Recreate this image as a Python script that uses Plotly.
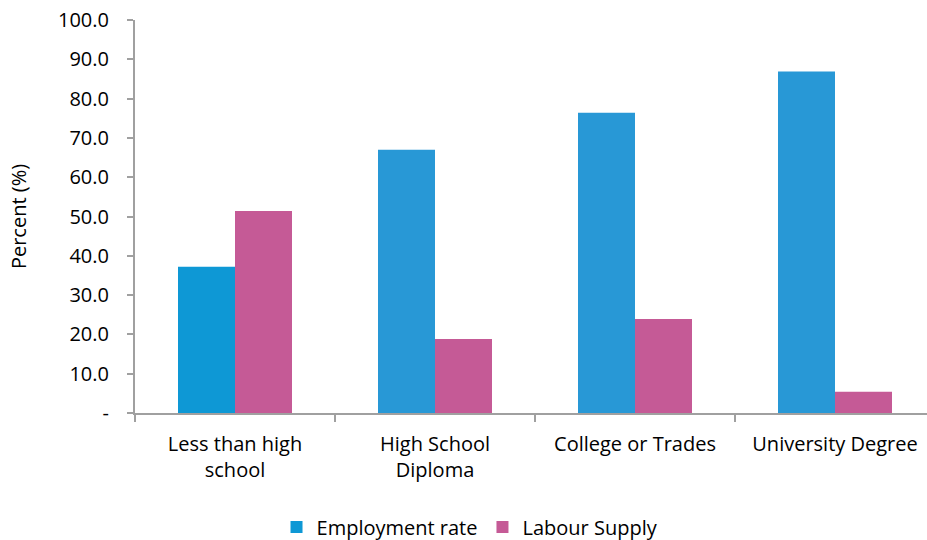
import plotly.graph_objects as go

categories = ["Less than high<br>school", "High School<br>Diploma", "College or Trades", "University Degree"]
employment = [37.2, 67.0, 76.4, 86.9]
labour = [51.4, 18.8, 23.9, 5.4]
emp_colors = ["#0E98D5", "#2898D6", "#2898D6", "#2898D6"]
tick_vals = [0, 10, 20, 30, 40, 50, 60, 70, 80, 90, 100]
tick_text = ["-", "10.0", "20.0", "30.0", "40.0", "50.0", "60.0", "70.0", "80.0", "90.0", "100.0"]

font_family = "Open Sans, Noto Sans, sans-serif"
fs = 20

fig = go.Figure()
fig.add_trace(go.Bar(x=categories, y=employment, name="Employment rate",
                     marker=dict(color=emp_colors, line=dict(width=0))))
fig.add_trace(go.Bar(x=categories, y=labour, name="Labour Supply",
                     marker=dict(color="#C55A96", line=dict(width=0))))

fig.update_layout(
    width=927, height=540,
    margin=dict(l=135, r=0, t=20, b=127, autoexpand=False),
    paper_bgcolor="white", plot_bgcolor="white",
    barmode="group", bargap=0.43, bargroupgap=0,
    font=dict(family=font_family, size=fs, color="#000000"),
    showlegend=True,
    legend=dict(orientation="h", x=0.423, xanchor="center", y=0.024, yanchor="middle",
                yref="container", font=dict(size=fs), traceorder="normal"),
    xaxis=dict(range=[-0.5, 3.46], showline=True, linecolor="#A0A0A0", linewidth=2,
               ticks="outside", tickson="boundaries", ticklen=7, tickcolor="#A0A0A0",
               tickwidth=2, showgrid=False, tickfont=dict(size=fs), zeroline=False,
               ticklabelstandoff=12, automargin=False),
    yaxis=dict(range=[0, 100], tickvals=tick_vals, ticktext=tick_text,
               showline=True, linecolor="#A0A0A0", linewidth=2, ticks="outside",
               ticklen=6, tickcolor="#A0A0A0", tickwidth=2, showgrid=False,
               zeroline=False, tickfont=dict(size=fs), ticklabelstandoff=14,
               ticklabeloverflow="allow", automargin=False,
               title=dict(text="Percent (%)", font=dict(size=fs), standoff=26)),
)

fig.write_html("out.html", config={"displayModeBar": False},
               post_script="document.body.style.margin='0';")
